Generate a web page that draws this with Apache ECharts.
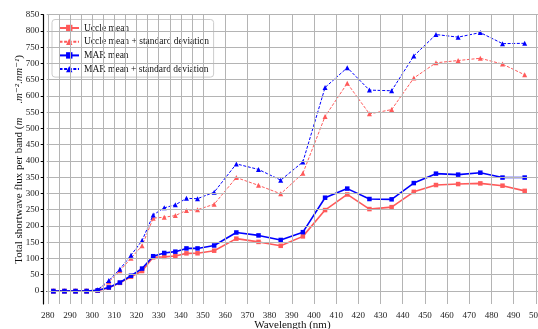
<!DOCTYPE html>
<html>
<head>
<meta charset="utf-8">
<script src="https://cdn.jsdelivr.net/npm/echarts@6/dist/echarts.min.js"></script>
<style>
  html, body { margin: 0; padding: 0; background: #fff; }
  #chart { width: 538px; height: 329px; }
</style>
</head>
<body>
<div id="chart"></div>
<script>
// Band centres (nm)
const wavelengths = [282.5, 287.5, 292.5, 297.5, 302.5, 307.5, 312.5, 317.5, 322.5, 327.5,
  332.5, 337.5, 342.5, 347.5, 355, 365, 375, 385, 395, 405, 415, 425, 435, 445, 455, 465, 475, 485, 495];

const uccleMean = [0, 0, 0, 0, 1, 10, 25, 44, 61.5, 103.6, 105, 107.7, 115.8, 116, 124, 161, 151, 139,
  168, 249, 297, 252, 258, 305, 326, 329, 331, 324, 308];
const uccleMeanStd = [0, 0, 0, 0, 2, 28, 62, 101, 139, 224, 227, 232, 248, 250, 267, 349, 325, 299,
  362, 537, 639, 545, 558, 655, 702, 709, 716, 698, 665];
const marMean = [0, 0, 0, 0, 2, 11, 26, 47, 69, 107, 117, 121, 131, 131, 140, 180, 171, 157,
  181, 287, 315, 283, 282, 332, 361, 358, 364, 349, 349];
const marMeanStd = [0, 0, 0, 0, 4, 32, 67, 110, 155, 234, 256, 265, 285, 284, 304, 391, 374, 341,
  397, 626, 687, 618, 616, 723, 789, 781, 795, 761, 762];

// Axis ticks and band edges
const xTicks = [280, 290, 300, 310, 320, 330, 340, 350, 360, 370, 380, 390, 400, 410, 420, 430, 440, 450, 460, 470, 480, 490, 500];
const bandEdges = [285, 295, 305, 315, 325, 335, 345];
const yTicks = [0, 50, 100, 150, 200, 250, 300, 350, 400, 450, 500, 550, 600, 650, 700, 750, 800, 850];

const FONT = '"Liberation Serif", "Times New Roman", "DejaVu Serif", serif';
const RED = '#ff5a5a';
const BLUE = '#0000ff';
const GRID = '#b4b4b4';

const pairs = (ys) => wavelengths.map((x, i) => [x, ys[i]]);

const gridLines = []
  .concat(xTicks.map(v => ({ xAxis: v })))
  .concat(bandEdges.map(v => ({ xAxis: v })))
  .concat(yTicks.map(v => ({ yAxis: v })));

const chart = echarts.init(document.getElementById('chart'), null, { renderer: 'canvas' });

chart.setOption({
  animation: false,
  backgroundColor: '#fff',
  textStyle: { fontFamily: FONT },
  grid: { left: 46.7, right: 0, top: 14.7, bottom: 25, containLabel: false, outerBoundsMode: 'none' },
  legend: {
    data: ['Uccle mean', 'Uccle mean + standard deviation', 'MAR mean', 'MAR mean + standard deviation'],
    orient: 'vertical',
    left: 52,
    top: 19.5,
    itemWidth: 19.5,
    itemHeight: 8,
    itemGap: 3.7,
    padding: [3.5, 4.5, 3, 6.5],
    backgroundColor: 'rgba(255,255,255,0.85)',
    borderColor: '#cccccc',
    borderWidth: 1,
    borderRadius: 3,
    textStyle: { fontFamily: FONT, fontSize: 9.5, color: '#111', lineHeight: 10 }
  },
  xAxis: {
    type: 'value',
    min: 279.5,
    max: 501,
    offset: 4,
    name: 'Wavelength (nm)',
    nameLocation: 'middle',
    nameGap: 11.5,
    nameMoveOverlap: false,
    nameTextStyle: { fontFamily: FONT, fontSize: 11, color: '#111' },
    axisLine: { show: true, lineStyle: { color: '#000', width: 1.2 } },
    axisTick: { show: true, length: 2.5, customValues: xTicks, lineStyle: { color: '#000', width: 1 } },
    axisLabel: { customValues: xTicks, fontFamily: FONT, fontSize: 9, color: '#222', margin: 3 },
    splitLine: { show: false }
  },
  yAxis: {
    type: 'value',
    min: -40,
    max: 850,
    offset: 3.5,
    name: '{a|Total shortwave flux per band (}{i|m}{a|     .}{i|m⁻²}{a|.}{i|nm⁻¹}{a|)}',
    nameLocation: 'middle',
    nameGap: 19,
    nameMoveOverlap: false,
    nameRotate: 90,
    nameTextStyle: {
      fontFamily: FONT, fontSize: 11, color: '#111',
      rich: {
        a: { fontFamily: FONT, fontSize: 11, color: '#111' },
        i: { fontFamily: FONT, fontSize: 11, fontStyle: 'italic', color: '#111' }
      }
    },
    axisLine: { show: true, lineStyle: { color: '#000', width: 1.2 } },
    axisTick: { show: true, length: 2.5, customValues: yTicks, lineStyle: { color: '#000', width: 1 } },
    axisLabel: { customValues: yTicks, fontFamily: FONT, fontSize: 9, color: '#222', margin: 4 },
    splitLine: { show: false }
  },
  series: [
    {
      name: 'grid',
      type: 'line',
      data: [],
      silent: true,
      z: 1,
      markLine: {
        silent: true,
        symbol: ['none', 'none'],
        label: { show: false },
        lineStyle: { color: GRID, width: 1, type: 'solid' },
        emphasis: { disabled: true },
        data: gridLines
      }
    },
    {
      name: 'Uccle mean',
      type: 'line',
      z: 3,
      data: pairs(uccleMean),
      symbol: 'rect',
      symbolSize: 4.5,
      color: RED,
      lineStyle: { color: RED, width: 1.6 },
      itemStyle: { color: RED }
    },
    {
      name: 'Uccle mean + standard deviation',
      type: 'line',
      z: 3,
      data: pairs(uccleMeanStd),
      symbol: 'triangle',
      symbolSize: 5,
      color: RED,
      lineStyle: { color: RED, width: 1, type: [3, 1.6] },
      itemStyle: { color: RED }
    },
    {
      name: 'MAR mean',
      type: 'line',
      z: 4,
      data: pairs(marMean),
      symbol: 'rect',
      symbolSize: 4.5,
      color: BLUE,
      lineStyle: { color: BLUE, width: 1.6 },
      itemStyle: { color: BLUE }
    },
    {
      name: 'MAR mean + standard deviation',
      type: 'line',
      z: 4,
      data: pairs(marMeanStd),
      symbol: 'triangle',
      symbolSize: 5,
      color: BLUE,
      lineStyle: { color: BLUE, width: 1, type: [3, 1.6] },
      itemStyle: { color: BLUE }
    }
  ]
});
</script>
</body>
</html>
